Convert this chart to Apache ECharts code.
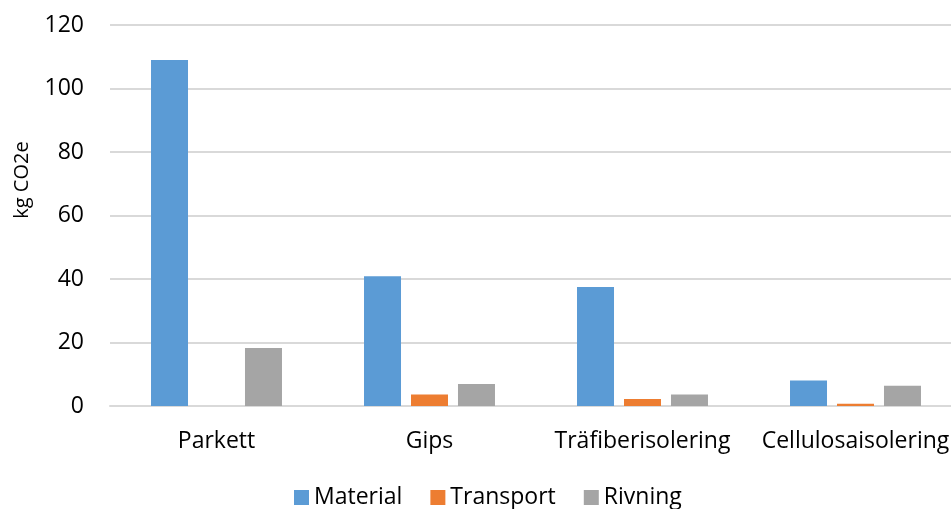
<!DOCTYPE html>
<html>
<head>
<meta charset="utf-8">
<script src="https://cdn.jsdelivr.net/npm/echarts@6/dist/echarts.min.js"></script>
<style>
  html, body { margin: 0; padding: 0; background: #fff; }
  #chart { width: 951px; height: 509px; }
</style>
</head>
<body>
<div id="chart"></div>
<script>
const categories = ['Parkett', 'Gips', 'Träfiberisolering', 'Cellulosaisolering']
const material = [109, 40.9, 37.5, 8.0]
const transport = [0, 3.6, 2.2, 0.7]
const rivning = [18.3, 6.9, 3.6, 6.4]

const chart = echarts.init(document.getElementById('chart'))
const font = '"Open Sans", sans-serif'

const bar = (name, data, color) => ({
    name: name,
    type: 'bar',
    data: data,
    barWidth: 37,
    barGap: '27%',
    itemStyle: { color: color }
})

chart.setOption({
    animation: false,
    textStyle: { fontFamily: font },
    grid: { left: 110, width: 852, top: 25, height: 381, outerBoundsMode: 'none' },
    legend: {
        top: 481,
        left: 289,
        itemWidth: 15,
        itemHeight: 15,
        itemGap: 28,
        icon: 'rect',
        textStyle: { fontSize: 23, color: '#000', fontFamily: font },
        data: ['Material', 'Transport', 'Rivning']
    },
    graphic: [{
        type: 'text',
        x: 22,
        y: 180,
        rotation: Math.PI / 2,
        style: {
            text: 'kg CO2e',
            fontSize: 20,
            fontFamily: font,
            fill: '#000',
            align: 'center',
            verticalAlign: 'middle'
        }
    }],
    xAxis: {
        type: 'category',
        data: categories,
        axisLine: { lineStyle: { color: '#d9d9d9', width: 2 } },
        axisTick: { show: false },
        axisLabel: { fontSize: 23, color: '#000', margin: 24, interval: 0 }
    },
    yAxis: {
        type: 'value',
        min: 0,
        max: 120,
        interval: 20,
        axisLine: { show: false },
        axisTick: { show: false },
        splitLine: { lineStyle: { color: '#d9d9d9', width: 2 } },
        axisLabel: { fontSize: 23, color: '#000', margin: 26 }
    },
    series: [
        bar('Material', material, '#5b9bd5'),
        bar('Transport', transport, '#ed7d31'),
        bar('Rivning', rivning, '#a5a5a5')
    ]
})
</script>
</body>
</html>
